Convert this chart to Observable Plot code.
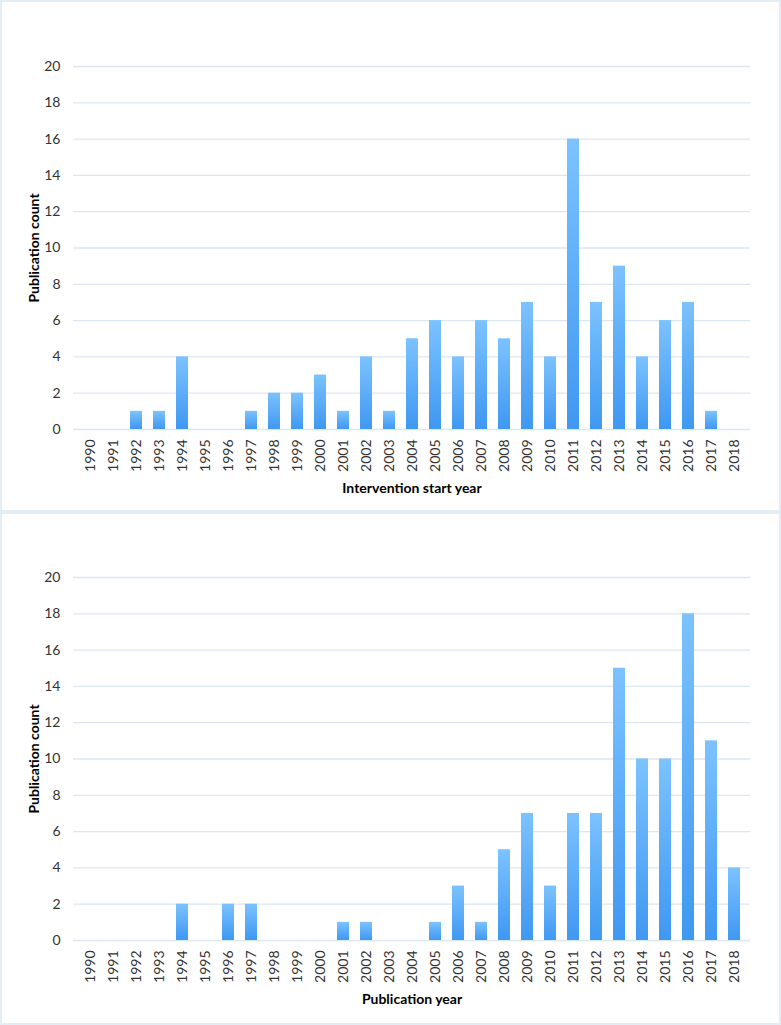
<!DOCTYPE html>
<html>
<head>
<meta charset="utf-8">
<script src="https://cdn.jsdelivr.net/npm/d3@7"></script>
<script src="https://cdn.jsdelivr.net/npm/@observablehq/plot@0.6"></script>
<style>
  html, body { margin: 0; padding: 0; background: #fff; }
  .panel { box-sizing: border-box; width: 781px; border: 2px solid #e3edf6; background: #fff; }
  .panel svg { display: block; }
  g[aria-label="x-axis label"] text, g[aria-label="y-axis label"] text { font-weight: bold; fill: #000; font-size: 14px; }
  g[aria-label="x-axis tick label"] text, g[aria-label="y-axis tick label"] text { fill: #333; }
</style>
</head>
<body>
<div id="p1" class="panel" style="height:512px"></div>
<div id="p2" class="panel" style="height:513px"></div>
<script>
const years = ["1990","1991","1992","1993","1994","1995","1996","1997","1998","1999","2000","2001","2002","2003","2004","2005","2006","2007","2008","2009","2010","2011","2012","2013","2014","2015","2016","2017","2018"];
const interventionCounts = [0,0,1,1,4,0,0,1,2,2,3,1,4,1,5,6,4,6,5,7,4,16,7,9,4,6,7,1,0];
const publicationCounts = [0,0,0,0,2,0,2,2,0,0,0,1,1,0,0,1,3,1,5,7,3,7,7,15,10,10,18,11,4];
const yTicks = [0,2,4,6,8,10,12,14,16,18,20];

function makeChart(counts, xLabel, gradId, height, marginTop, marginBottom) {
  const data = years.map((y, i) => ({year: y, count: counts[i]}));
  const svg = Plot.plot({
    width: 777,
    height,
    marginTop,
    marginBottom,
    marginLeft: 71,
    marginRight: 29,
    style: {fontFamily: "Lato, 'Open Sans', sans-serif", fontSize: "14px", color: "#404040", background: "#fff"},
    x: {domain: years, paddingInner: 0.48, paddingOuter: 0.02, align: 0.5},
    y: {domain: [0, 20]},
    marks: [
      Plot.gridY(yTicks, {stroke: "#dbe7f2", strokeOpacity: 1, strokeWidth: 1.3}),
      Plot.barY(data, {x: "year", y: "count", fill: `url(#${gradId})`}),
      Plot.axisY(yTicks, {tickSize: 0, tickPadding: 13, label: "Publication count", labelAnchor: "center", labelOffset: 44, labelArrow: false}),
      Plot.axisX({tickSize: 0, tickPadding: 10, tickRotate: -90, label: xLabel, labelAnchor: "center", labelOffset: 63, labelArrow: false})
    ]
  });
  const ns = "http://www.w3.org/2000/svg";
  const defs = document.createElementNS(ns, "defs");
  const lg = document.createElementNS(ns, "linearGradient");
  lg.setAttribute("id", gradId);
  lg.setAttribute("x1", "0"); lg.setAttribute("y1", "0");
  lg.setAttribute("x2", "0"); lg.setAttribute("y2", "1");
  [["0%", "#7cc2ff"], ["100%", "#3f98f2"]].forEach(([o, c]) => {
    const s = document.createElementNS(ns, "stop");
    s.setAttribute("offset", o); s.setAttribute("stop-color", c);
    lg.appendChild(s);
  });
  defs.appendChild(lg);
  svg.insertBefore(defs, svg.firstChild);
  return svg;
}

document.getElementById("p1").appendChild(makeChart(interventionCounts, "Intervention start year", "g1", 508, 64, 81));
document.getElementById("p2").appendChild(makeChart(publicationCounts, "Publication year", "g2", 509, 63, 83));
</script>
</body>
</html>
